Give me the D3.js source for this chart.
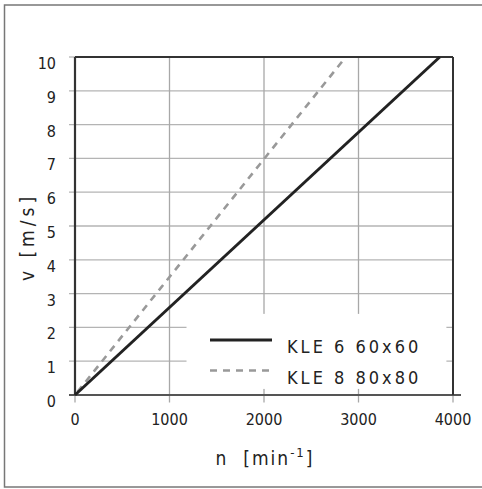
<!DOCTYPE html>
<html>
<head>
<meta charset="utf-8">
<script src="https://cdn.jsdelivr.net/npm/d3@7"></script>
<style>
  body { margin: 0; background: #fff; }
  svg text { font-family: "Liberation Sans Narrow", "DejaVu Sans Condensed", Roboto, sans-serif; fill: #222; }
</style>
</head>
<body>
<div id="chart"></div>
<script>
// ***** DATA *****
var seriesNames = ["KLE 6 60x60", "KLE 8 80x80"];
var kle6Speed = [0, 3860];      // n [min-1]
var kle6Velocity = [0, 10];     // v [m/s]
var kle8Speed = [0, 2865];
var kle8Velocity = [0, 10];
var xTicks = [0, 1000, 2000, 3000, 4000];
var yTicks = [0, 1, 2, 3, 4, 5, 6, 7, 8, 9, 10];

var width = 482, height = 489;
var margin = { left: 75, top: 57, right: 29, bottom: 94 };
var plotW = width - margin.left - margin.right;
var plotH = height - margin.top - margin.bottom;

var svg = d3.select("#chart").append("svg")
    .attr("width", width)
    .attr("height", height);

// outer frame
svg.append("rect")
    .attr("x", 4.5).attr("y", 5)
    .attr("width", 482).attr("height", 482)
    .attr("fill", "none")
    .attr("stroke", "#777")
    .attr("stroke-width", 1.5);

var x = d3.scaleLinear().domain([0, 4000]).range([margin.left, margin.left + plotW]);
var y = d3.scaleLinear().domain([0, 10]).range([margin.top + plotH, margin.top]);

var g = svg.append("g");

// grid lines (stick out a bit past the frame like ticks)
g.selectAll(".hgrid")
    .data(yTicks.filter(function(d) { return d > 0 && d < 10; }))
    .enter().append("line")
    .attr("x1", x(0) - 6).attr("x2", x(4000))
    .attr("y1", function(d) { return y(d); })
    .attr("y2", function(d) { return y(d); })
    .attr("stroke", "#b4b4b4").attr("stroke-width", 1.3);

g.selectAll(".vgrid")
    .data(xTicks)
    .enter().append("line")
    .attr("x1", function(d) { return x(d); })
    .attr("x2", function(d) { return x(d); })
    .attr("y1", y(10)).attr("y2", y(0) + 7.5)
    .attr("stroke", "#a8a8a8").attr("stroke-width", 1.3);

// short tick at 10
g.append("line")
    .attr("x1", x(0) - 6).attr("x2", x(0))
    .attr("y1", y(10)).attr("y2", y(10))
    .attr("stroke", "#b4b4b4").attr("stroke-width", 1.3);

// legend box hides grid behind it
var legendBox = { n0: 1180, n1: 3930, v0: 0.18, v1: 2.4 };
g.append("rect")
    .attr("x", x(legendBox.n0))
    .attr("y", y(legendBox.v1))
    .attr("width", x(legendBox.n1) - x(legendBox.n0))
    .attr("height", y(legendBox.v0) - y(legendBox.v1))
    .attr("fill", "#fff");

// frame of plot
g.append("line")
    .attr("x1", x(0) - 6).attr("x2", x(4000) + 8)
    .attr("y1", y(0)).attr("y2", y(0))
    .attr("stroke", "#555").attr("stroke-width", 2);
g.append("line")
    .attr("x1", x(0)).attr("x2", x(4000))
    .attr("y1", y(10)).attr("y2", y(10))
    .attr("stroke", "#333").attr("stroke-width", 2);
g.append("line")
    .attr("x1", x(0)).attr("x2", x(0))
    .attr("y1", y(10)).attr("y2", y(0))
    .attr("stroke", "#333").attr("stroke-width", 2.2);
g.append("line")
    .attr("x1", x(4000)).attr("x2", x(4000))
    .attr("y1", y(10)).attr("y2", y(0))
    .attr("stroke", "#333").attr("stroke-width", 2);

// tick labels
g.selectAll(".ylab")
    .data(yTicks)
    .enter().append("text")
    .attr("x", x(0) - 19)
    .attr("y", function(d) { return y(d) + 12; })
    .attr("text-anchor", "end")
    .attr("font-size", 16)
    .text(function(d) { return d; });

g.selectAll(".xlab")
    .data(xTicks)
    .enter().append("text")
    .attr("x", function(d) { return x(d); })
    .attr("y", y(0) + 30)
    .attr("text-anchor", "middle")
    .attr("font-size", 16)
    .text(function(d) { return d; });

// axis titles
var xt = svg.append("text")
    .attr("x", (x(0) + x(4000)) / 2 + 1)
    .attr("y", 465)
    .attr("text-anchor", "middle")
    .attr("font-size", 19)
    .style("letter-spacing", "2px")
    .style("white-space", "pre");
xt.append("tspan").text("n  [min");
xt.append("tspan").attr("dy", -8).attr("font-size", 13).text("-1");
xt.append("tspan").attr("dy", 8).text("]");

svg.append("text")
    .attr("transform", "translate(34,237) rotate(-90)")
    .attr("text-anchor", "middle")
    .attr("font-size", 19)
    .style("letter-spacing", "4px")
    .text("v [m/s]");

// ***** LINES *****
var line = d3.line()
    .x(function(d) { return x(d[0]); })
    .y(function(d) { return y(d[1]); });

var kle6 = d3.zip(kle6Speed, kle6Velocity);
var kle8 = d3.zip(kle8Speed, kle8Velocity);

g.append("path")
    .datum(kle8)
    .attr("d", line)
    .attr("fill", "none")
    .attr("stroke", "#999")
    .attr("stroke-width", 2.6)
    .attr("stroke-dasharray", "7,6")
    .attr("stroke-dashoffset", 9);

g.append("path")
    .datum(kle6)
    .attr("d", line)
    .attr("fill", "none")
    .attr("stroke", "#222")
    .attr("stroke-width", 3);

// ***** LEGEND *****
var legendItems = [
    { name: seriesNames[0], color: "#222", dash: null, w: 3 },
    { name: seriesNames[1], color: "#999", dash: "7,6", w: 2.6 }
];
var legend = g.selectAll(".legend")
    .data(legendItems)
    .enter().append("g")
    .attr("transform", function(d, i) { return "translate(210," + (340 + i * 30.5) + ")"; });

legend.append("line")
    .attr("x1", 0).attr("x2", 62)
    .attr("stroke", function(d) { return d.color; })
    .attr("stroke-width", function(d) { return d.w; })
    .attr("stroke-dasharray", function(d) { return d.dash; });

legend.append("text")
    .attr("x", 77)
    .attr("y", 13)
    .attr("font-size", 18)
    .style("letter-spacing", "3px")
    .text(function(d) { return d.name; });
</script>
</body>
</html>
